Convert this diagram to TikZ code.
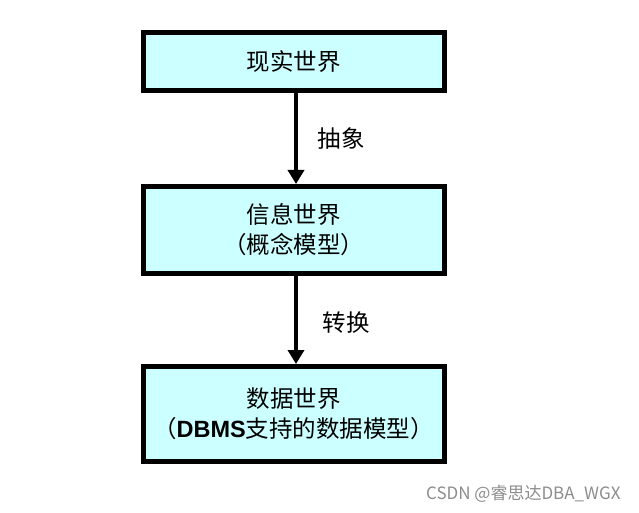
\documentclass[tikz,border=0pt]{standalone}
\usepackage{fontspec}
\setmainfont{Liberation Sans}
\newfontfamily\cjk{Noto Sans CJK SC}
\usetikzlibrary{arrows.meta}
\definecolor{boxfill}{HTML}{CCFFFF}
\tikzset{
  worldbox/.style={draw=black, line width=5pt, fill=boxfill, minimum width=301pt, align=center, font=\cjk\fontsize{23.5}{30}\selectfont, inner sep=0pt},
  flowarrow/.style={line width=4.5pt, -{Triangle[width=16pt,length=14pt]}},
  arrowlabel/.style={font=\cjk\fontsize{23.5}{25}\selectfont},
}
\begin{document}
\begin{tikzpicture}[x=1pt,y=1pt]
\useasboundingbox (0,0) rectangle (639,-513);
\node[worldbox, minimum height=58pt] (real) at (293.5,-62) {现实世界};
\node[worldbox, minimum height=87pt] (info) at (293.5,-230) {信息世界\\（概念模型）};
\node[worldbox, minimum height=95pt] (data) at (293.5,-414) {数据世界\\（{\bfseries\fontspec{Liberation Sans}DBMS}支持的数据模型）};
\draw[flowarrow] (real.south -| 296,0) -- (info.north -| 296,0);
\draw[flowarrow] (info.south -| 296,0) -- (data.north -| 296,0);
\node[arrowlabel] (l1) at (341,-139) {抽象};
\node[arrowlabel] (l2) at (346,-323) {转换};
\node[font=\cjk\fontsize{17}{19}\selectfont, text=black!45, anchor=east] (wm) at (624,-494) {CSDN @睿思达DBA\_WGX};
\end{tikzpicture}
\end{document}
